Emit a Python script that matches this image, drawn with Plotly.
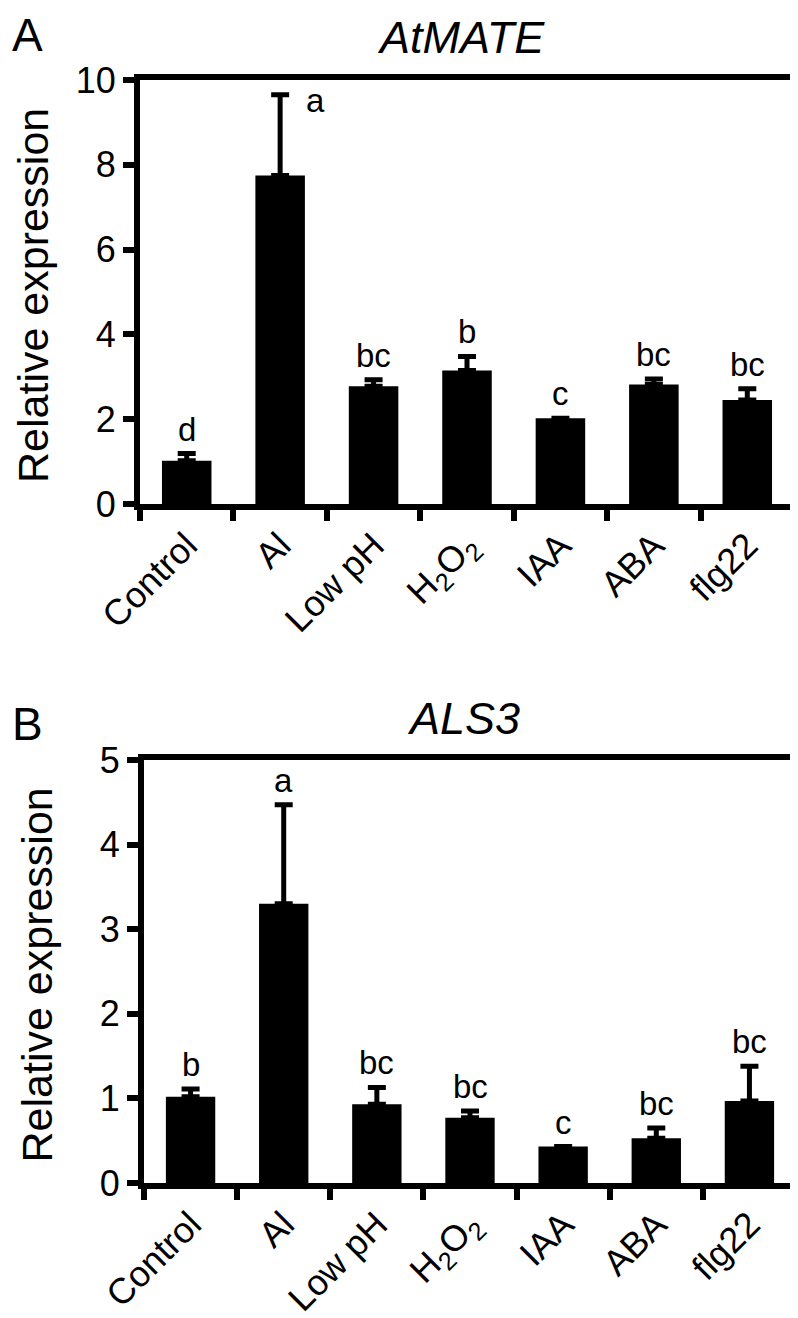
import plotly.graph_objects as go

W, H = 798, 1318
FONT = "Arial, Liberation Sans, sans-serif"

categories = ["Control", "Al", "Low pH", "H<sub>2</sub>O<sub>2</sub>", "IAA", "ABA", "flg22"]

# Panel A: AtMATE
atmate_mean = [1.02, 7.75, 2.78, 3.15, 2.02, 2.82, 2.45]
atmate_err = [0.17, 1.90, 0.15, 0.33, 0.0, 0.13, 0.27]
atmate_letters = ["d", "a", "bc", "b", "c", "bc", "bc"]

# Panel B: ALS3
als3_mean = [1.02, 3.30, 0.93, 0.77, 0.43, 0.53, 0.97]
als3_err = [0.09, 1.17, 0.20, 0.08, 0.0, 0.12, 0.41]
als3_letters = ["b", "a", "bc", "bc", "c", "bc", "bc"]

yticks_a = [0, 2, 4, 6, 8, 10]
yticks_b = [0, 1, 2, 3, 4, 5]


def px_x(p):
    return p / W


def px_y(p):
    return 1 - p / H


fig = go.Figure()

for mean, err, ax in [(atmate_mean, atmate_err, ""), (als3_mean, als3_err, "2")]:
    fig.add_trace(go.Bar(
        x=categories, y=mean,
        xaxis="x" + ax, yaxis="y" + ax,
        width=0.53,
        marker=dict(color="black", line=dict(width=0)),
        error_y=dict(type="data", array=err, arrayminus=[0] * len(err), symmetric=False,
                     color="black", thickness=5, width=9, visible=True),
        showlegend=False,
        hoverinfo="skip",
    ))

axis_common = dict(
    showline=True, linecolor="black", linewidth=6, mirror=True,
    ticks="outside", tickcolor="black", tickwidth=6, ticklen=11,
    showgrid=False, zeroline=False, automargin=False,
    tickfont=dict(family=FONT, size=36, color="black"),
)

A_TOP, A_BOT = 72, 496
B_TOP, B_BOT = 752, 1175

fig.update_layout(
    width=W, height=H,
    margin=dict(l=0, r=0, t=0, b=0),
    paper_bgcolor="white", plot_bgcolor="white",
    xaxis=dict(domain=[px_x(132), px_x(786)], anchor="y", type="category",
               tickson="boundaries", tickangle=-45, **axis_common),
    yaxis=dict(domain=[px_y(A_BOT), px_y(A_TOP)], anchor="x", range=[0, 10],
               tickvals=yticks_a, **axis_common),
    xaxis2=dict(domain=[px_x(136), px_x(788)], anchor="y2", type="category",
                tickson="boundaries", tickangle=-45, **axis_common),
    yaxis2=dict(domain=[px_y(B_BOT), px_y(B_TOP)], anchor="x2", range=[0, 5],
                tickvals=yticks_b, **axis_common),
)

annotations = []
# significance letters
for mean, err, letters, xr, yr in [
    (atmate_mean, atmate_err, atmate_letters, "x", "y"),
    (als3_mean, als3_err, als3_letters, "x2", "y2"),
]:
    for c, m, e, l in zip(categories, mean, err, letters):
        top = m + e
        if xr == "x" and l == "a":
            annotations.append(dict(x=c, y=top, xref=xr, yref=yr, text=l, showarrow=False,
                                    xanchor="left", yanchor="middle", xshift=24, yshift=-6,
                                    font=dict(family=FONT, size=33, color="black")))
        else:
            annotations.append(dict(x=c, y=top, xref=xr, yref=yr, text=l, showarrow=False,
                                    xanchor="center", yanchor="bottom", yshift=4,
                                    font=dict(family=FONT, size=33, color="black")))

# y-axis titles
annotations += [
    dict(x=px_x(25), y=px_y((A_TOP + A_BOT) / 2 + 4), xref="paper", yref="paper",
         text="Relative expression", textangle=-90, showarrow=False,
         xanchor="center", yanchor="middle", font=dict(family=FONT, size=43, color="black")),
    dict(x=px_x(28), y=px_y((B_TOP + B_BOT) / 2 + 4), xref="paper", yref="paper",
         text="Relative expression", textangle=-90, showarrow=False,
         xanchor="center", yanchor="middle", font=dict(family=FONT, size=43, color="black")),
]

# panel letters and titles
annotations += [
    dict(x=px_x(2), y=px_y(27), xref="paper", yref="paper", text="A", showarrow=False,
         xanchor="left", yanchor="middle", font=dict(family=FONT, size=46, color="black")),
    dict(x=px_x(453), y=px_y(30), xref="paper", yref="paper", text="<i>AtMATE</i>", showarrow=False,
         xanchor="center", yanchor="middle", font=dict(family=FONT, size=45, color="black")),
    dict(x=px_x(2), y=px_y(716), xref="paper", yref="paper", text="B", showarrow=False,
         xanchor="left", yanchor="middle", font=dict(family=FONT, size=46, color="black")),
    dict(x=px_x(455), y=px_y(711), xref="paper", yref="paper", text="<i>ALS3</i>", showarrow=False,
         xanchor="center", yanchor="middle", font=dict(family=FONT, size=45, color="black")),
]
fig.update_layout(annotations=annotations)

fig.write_html("out.html")
